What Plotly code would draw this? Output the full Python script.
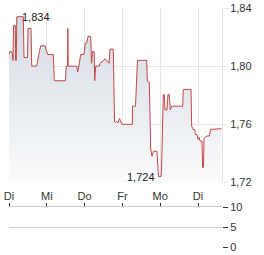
import plotly.graph_objects as go

# time in trading days since first "Di" (0 = Di, 1 = Mi, ...)
t = [0.000, 0.026, 0.079, 0.087, 0.106, 0.119, 0.167, 0.177, 0.193, 0.206, 0.378, 0.397, 0.489, 0.503,
     0.582, 0.601, 0.733, 0.802, 0.839, 0.952, 1.024, 1.172, 1.198, 1.495, 1.513, 1.548, 1.556, 1.566,
     1.791, 1.817, 1.860, 1.897, 1.984, 2.019, 2.056, 2.090, 2.161, 2.183, 2.209, 2.254, 2.267, 2.294,
     2.389, 2.407, 2.548, 2.601, 2.646, 2.672, 2.759, 2.791, 2.817, 2.849, 2.884, 2.923, 2.963, 2.989,
     3.262, 3.267, 3.347, 3.373, 3.399, 3.643, 3.659, 3.712, 3.749, 3.783, 3.823, 3.915, 3.955, 4.021,
     4.034, 4.082, 4.108, 4.127, 4.180, 4.206, 4.241, 4.267, 4.299, 4.595, 4.611, 4.815, 4.833, 4.868,
     4.913, 4.929, 4.974, 5.000, 5.034, 5.053, 5.106, 5.122, 5.146, 5.159, 5.185, 5.238, 5.304, 5.331,
     5.622]
price = [1.808, 1.810, 1.810, 1.804, 1.804, 1.828, 1.828, 1.804, 1.804, 1.834, 1.834, 1.806, 1.806, 1.826,
         1.826, 1.800, 1.800, 1.810, 1.814, 1.814, 1.808, 1.808, 1.790, 1.790, 1.800, 1.800, 1.826, 1.800,
         1.800, 1.796, 1.802, 1.808, 1.808, 1.816, 1.816, 1.8205, 1.8205, 1.802, 1.810, 1.810, 1.790, 1.800,
         1.800, 1.802, 1.805, 1.803, 1.802, 1.8117, 1.8117, 1.762, 1.761, 1.762, 1.761, 1.764, 1.761, 1.760,
         1.760, 1.7725, 1.7725, 1.797, 1.804, 1.804, 1.7897, 1.789, 1.743, 1.738, 1.7415, 1.7415, 1.724, 1.724,
         1.727, 1.7805, 1.7805, 1.770, 1.770, 1.7805, 1.7805, 1.770, 1.7725, 1.7725, 1.784, 1.784, 1.7588, 1.7565,
         1.7565, 1.753, 1.753, 1.7497, 1.751, 1.7485, 1.7485, 1.7303, 1.7303, 1.7497, 1.751, 1.752, 1.752, 1.7565,
         1.757]
day_labels = ["Di", "Mi", "Do", "Fr", "Mo", "Di"]
day_ticks = [0, 1, 2, 3, 4, 5]
price_ticks = [1.72, 1.76, 1.80, 1.84]
volume_ticks = [0, 5, 10]
volume_t = []
volume = []

n = min(len(t), len(price))
t, price = t[:n], price[:n]

x_range = [0, 5.635]
grid = "#e6e6e6"
font = dict(family="Liberation Sans, Arial, sans-serif", size=11, color="#333333")

fig = go.Figure()
fig.add_trace(go.Scatter(
    x=t, y=price, mode="lines", line=dict(color="#c44646", width=1),
    fill="tozeroy",
    fillgradient=dict(type="vertical", start=1.72, stop=1.84,
                      colorscale=[[0, "rgb(250,251,252)"], [1, "rgb(208,216,224)"]]),
    xaxis="x", yaxis="y", hoverinfo="skip", showlegend=False))
fig.add_trace(go.Bar(x=volume_t, y=volume, xaxis="x2", yaxis="y2", marker_color="#8aa0b8", showlegend=False))

imax = price.index(max(price))
imin = price.index(min(price))
fmt = lambda v: f"{v:.3f}".replace(".", ",")
fig.add_annotation(x=t[imax], y=price[imax], xref="x", yref="y", text=fmt(price[imax]),
                   showarrow=False, xanchor="left", yanchor="middle", xshift=3,
                   font=dict(family=font["family"], size=11, color="#222222"))
fig.add_annotation(x=t[imin], y=price[imin], xref="x", yref="y", text=fmt(price[imin]),
                   showarrow=False, xanchor="right", yanchor="middle", xshift=-2,
                   font=dict(family=font["family"], size=11, color="#222222"))

H = 255
plot_top, plot_bot = 8, 247
span = plot_bot - plot_top
main_bottom = 182.5
vol_top = 207

fig.update_layout(
    width=264, height=H,
    margin=dict(l=9, r=42, t=plot_top, b=H - plot_bot),
    paper_bgcolor="white", plot_bgcolor="rgba(0,0,0,0)",
    separators=",.",
    font=font,
    xaxis=dict(domain=[0, 1], range=x_range, anchor="y", tickvals=day_ticks, ticktext=day_labels,
               showgrid=True, gridcolor=grid, gridwidth=1, zeroline=False, showline=False, automargin=False,
               ticks="", ticklabelstandoff=5, tickfont=dict(size=11, color="#333333")),
    yaxis=dict(domain=[(plot_bot - main_bottom) / span, 1], range=[1.72, 1.84], anchor="x", side="right",
               tickvals=price_ticks, tickformat=".2f", showgrid=True, gridcolor=grid, zeroline=False,
               showline=True, linecolor=grid, mirror=False, ticks="outside", ticklen=5, tickcolor=grid,
               automargin=False, tickfont=dict(size=11, color="#333333")),
    xaxis2=dict(domain=[0, 1], range=x_range, anchor="y2", side="top", tickvals=day_ticks,
                showticklabels=False, showgrid=False, zeroline=False, showline=True, linecolor="#cccccc",
                ticks="outside", ticklen=3, tickcolor="#333333", automargin=False),
    yaxis2=dict(domain=[0, (plot_bot - vol_top) / span], range=[0, 10], anchor="x2", side="right",
                tickvals=volume_ticks, showgrid=True, gridcolor="#d0d0d0", zeroline=False, showline=False,
                ticks="outside", ticklen=5, tickcolor="#333333", automargin=False,
                tickfont=dict(size=11, color="#333333")),
)

fig.write_html("out.html")
